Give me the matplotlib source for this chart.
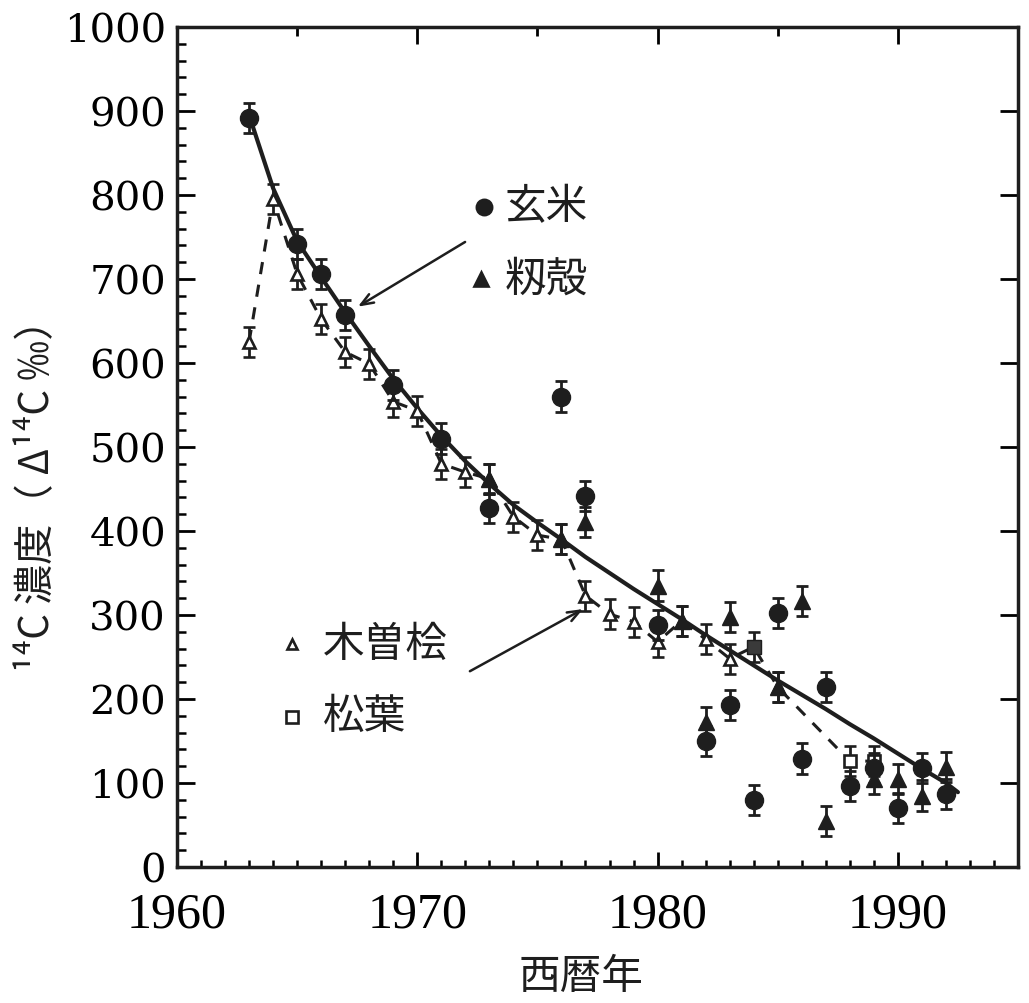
import matplotlib
matplotlib.use("Agg")
import matplotlib.pyplot as plt
from matplotlib.ticker import MultipleLocator, FixedLocator

# ---------------- data ----------------
rice_year = [1963, 1965, 1966, 1967, 1969, 1971, 1973, 1976, 1977, 1980, 1982, 1983,
             1984, 1985, 1986, 1987, 1988, 1989, 1990, 1991, 1992]
rice_val = [892, 742, 706, 657, 574, 510, 427, 560, 442, 288, 150, 193,
            80, 302, 129, 214, 96, 118, 70, 118, 87]

husk_year = [1973, 1976, 1977, 1980, 1981, 1982, 1983, 1985, 1986, 1987, 1989, 1990, 1991, 1992]
husk_val = [462, 390, 411, 335, 293, 173, 298, 214, 317, 55, 105, 105, 85, 119]

hinoki_year = [1963, 1964, 1965, 1966, 1967, 1968, 1969, 1970, 1971, 1972, 1973, 1974,
               1975, 1976, 1977, 1978, 1979, 1980, 1981, 1982, 1983, 1985]
hinoki_val = [625, 795, 706, 652, 613, 599, 554, 543, 480, 470, 462, 417,
              395, 390, 323, 301, 292, 268, 293, 271, 248, 214]

pine_year = [1984, 1988, 1989]
pine_val = [262, 126, 126]

fit_year = [1963, 1964, 1965, 1966, 1967, 1968, 1969, 1970, 1971, 1972, 1973, 1974, 1975,
            1976, 1977, 1978, 1979, 1980, 1981, 1982, 1983, 1984, 1985, 1986, 1987, 1988,
            1989, 1990, 1991, 1992, 1992.5]
fit_val = [895, 808, 745, 702, 660, 620, 581, 546, 513, 483, 456, 431, 410,
           390, 369, 350, 331, 313, 295, 276, 258, 240, 222, 205, 188, 170,
           153, 135, 117, 100, 89]

err = 18

xticks = [1960, 1970, 1980, 1990]
yticks = [0, 100, 200, 300, 400, 500, 600, 700, 800, 900, 1000]

legend_labels = ["玄米", "籾殻", "木曽桧", "松葉"]
xlabel = "西暦年"
ylabel = "¹⁴C 濃度（ Δ¹⁴C ‰）"

# ---------------- style ----------------
ink = "#1e1e1e"
cjk = ["Noto Sans CJK JP", "DejaVu Sans"]

fig = plt.figure(figsize=(10.29, 10.04), dpi=100)
ax = fig.add_axes([0.172, 0.1355, 0.8173, 0.8367])

# dashed line joining hinoki + pine
dash_pts = sorted(list(zip(hinoki_year, hinoki_val)) + list(zip(pine_year, pine_val)))
ax.plot([p[0] for p in dash_pts], [p[1] for p in dash_pts], color=ink, lw=2.2,
        dashes=(4, 3.5), zorder=2)

# fitted curve
ax.plot(fit_year, fit_val, color=ink, lw=3.0, zorder=3, solid_capstyle="round")

ekw = dict(ecolor=ink, elinewidth=2.0, capsize=4, capthick=2.0, linestyle="none")

ax.errorbar(hinoki_year, hinoki_val, yerr=err, marker="^", ms=9, mfc="white",
            mec=ink, mew=1.9, zorder=4, **ekw)
ax.errorbar(pine_year, pine_val, yerr=err, marker="s", ms=9, mfc="white",
            mec=ink, mew=1.9, zorder=4, **ekw)
ax.plot(pine_year[:1], pine_val[:1], marker="s", ms=10, mfc="#3a3a3a", mec=ink,
        linestyle="none", zorder=5)
ax.errorbar(husk_year, husk_val, yerr=err, marker="^", ms=12, mfc=ink, mec=ink,
            zorder=5, **ekw)
ax.errorbar(rice_year, rice_val, yerr=err, marker="o", ms=13, mfc=ink, mec=ink,
            zorder=6, **ekw)

# axes limits and ticks
ax.set_xlim(1960, 1995)
ax.set_ylim(0, 1000)
ax.xaxis.set_major_locator(FixedLocator(xticks))
ax.xaxis.set_minor_locator(MultipleLocator(1))
ax.yaxis.set_major_locator(FixedLocator(yticks))
ax.yaxis.set_minor_locator(MultipleLocator(20))
ax.tick_params(axis="x", which="major", direction="in", length=11, width=2, pad=17,
               top=False, labelsize=36)
ax.tick_params(axis="x", which="minor", direction="in", length=5, width=1.8, top=False)
ax.tick_params(axis="y", which="major", direction="in", length=13, width=2, pad=8,
               right=False, labelsize=29)
ax.tick_params(axis="y", which="minor", direction="in", length=6.5, width=1.8, right=False)
for lab in ax.get_xticklabels():
    lab.set_fontfamily("Liberation Serif")
for lab in ax.get_yticklabels():
    lab.set_fontfamily("DejaVu Serif")
for s in ax.spines.values():
    s.set_linewidth(2.5)
    s.set_color(ink)

# top ticks every 5 years, right ticks every 100
top = ax.secondary_xaxis("top")
top.xaxis.set_major_locator(MultipleLocator(10))
top.xaxis.set_minor_locator(MultipleLocator(5))
top.tick_params(which="major", direction="in", length=12, width=2, labeltop=False)
top.tick_params(which="minor", direction="in", length=6.5, width=2)
top.spines["top"].set_linewidth(0)
right = ax.secondary_yaxis("right")
right.yaxis.set_major_locator(FixedLocator(yticks[1:-1]))
right.tick_params(which="major", direction="in", length=13, width=2, labelright=False)
right.yaxis.set_minor_locator(FixedLocator([]))
right.spines["right"].set_linewidth(0)

# axis labels
ax.text(0.48, -0.13, xlabel, transform=ax.transAxes, ha="center", va="center",
        fontsize=30, family=cjk, color=ink)
ax.text(-0.166, 0.455, ylabel, transform=ax.transAxes, ha="center", va="center",
        rotation=90, fontsize=29, family=cjk, color=ink)

# in-plot legend
leg_marks = [("o", 11, ink, 0.365, 0.786), ("^", 10, ink, 0.361, 0.700),
             ("^", 7, "white", 0.137, 0.265), ("s", 8, "white", 0.137, 0.179)]
text_x = [0.390, 0.390, 0.174, 0.174]
for (m, ms, fc, x, y), tx, lab in zip(leg_marks, text_x, legend_labels):
    ax.plot([x], [y], marker=m, ms=ms, mfc=fc, mec=ink, mew=1.9, transform=ax.transAxes,
            clip_on=False, linestyle="none", zorder=7)
    ax.text(tx, y, lab, transform=ax.transAxes, ha="left", va="center",
            fontsize=30, family=cjk, color=ink)

# arrows
akw = dict(arrowstyle="->,head_length=0.9,head_width=0.35", color=ink, lw=1.8,
           shrinkA=0, shrinkB=0)
ax.annotate("", xy=(1967.53, 667), xytext=(1971.99, 744), arrowprops=akw, zorder=7)
ax.annotate("", xy=(1976.9, 307), xytext=(1972.19, 233), arrowprops=akw, zorder=7)

fig.savefig("out.png", dpi=100, facecolor="white")
